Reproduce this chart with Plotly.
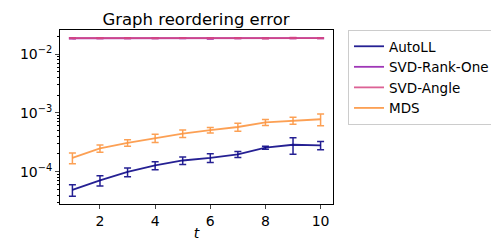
import plotly.graph_objects as go

t = [1, 2, 3, 4, 5, 6, 7, 8, 9, 10]

autoll = [4.9e-5, 7.1e-5, 9.9e-5, 1.28e-4, 1.55e-4, 1.72e-4, 1.97e-4, 2.56e-4, 2.87e-4, 2.8e-4]
autoll_err = [1.1e-5, 1.4e-5, 1.7e-5, 2.0e-5, 2.3e-5, 2.9e-5, 2.3e-5, 1.5e-5, 9.0e-5, 4.5e-5]

svd_rank_one = [0.0186, 0.0186, 0.0187, 0.0186, 0.0187, 0.0185, 0.0187, 0.0186, 0.0187, 0.0187]
svd_rank_one_err = [3e-4, 2e-4, 3e-4, 2e-4, 2e-4, 4e-4, 2e-4, 2e-4, 3e-4, 3e-4]

svd_angle = [0.0187, 0.0187, 0.0187, 0.0186, 0.0188, 0.0187, 0.0187, 0.0185, 0.0188, 0.0187]
svd_angle_err = [3e-4, 2e-4, 3e-4, 2e-4, 2e-4, 3e-4, 2e-4, 2e-4, 3e-4, 3e-4]

mds = [1.72e-4, 2.5e-4, 3.1e-4, 3.75e-4, 4.45e-4, 5.1e-4, 5.75e-4, 6.9e-4, 7.4e-4, 7.8e-4]
mds_err = [3.5e-5, 3.5e-5, 4.0e-5, 6.0e-5, 6.5e-5, 5.5e-5, 9.0e-5, 8.0e-5, 1.0e-4, 1.75e-4]

names = ["AutoLL", "SVD-Rank-One", "SVD-Angle", "MDS"]
colors = ["rgba(13,8,135,0.9)", "rgba(142,20,170,0.85)", "rgba(214,70,130,0.85)", "rgba(252,150,65,0.9)"]
series = [(autoll, autoll_err), (svd_rank_one, svd_rank_one_err), (svd_angle, svd_angle_err), (mds, mds_err)]

ytickvals = [1e-4, 1e-3, 1e-2]
yticktext = ["10<sup>−4</sup>", "10<sup>−3</sup>", "10<sup>−2</sup>"]
yminor = [m * 10 ** e for e in (-5, -4, -3, -2) for m in range(2, 10)]

fig = go.Figure()
for name, color, (vals, errs) in zip(names, colors, series):
    fig.add_trace(go.Scatter(
        x=t, y=vals, name=name, mode="lines",
        line=dict(color=color, width=1.8),
        error_y=dict(type="data", array=errs, visible=True, color=color, thickness=1.5, width=3.5),
    ))

fig.update_layout(
    width=499, height=243,
    margin=dict(l=41, r=164, t=22, b=39),
    plot_bgcolor="white", paper_bgcolor="white",
    font=dict(family="DejaVu Sans", size=14, color="black"),
    title=dict(text="Graph reordering error", x=(41 + 147) / 499, xanchor="center",
               y=1 - 11 / 243, yanchor="middle", font=dict(size=16.5)),
    showlegend=True,
    legend=dict(x=1.055, y=1.0, xanchor="left", yanchor="top",
                bordercolor="#cccccc", borderwidth=1, font=dict(size=13.5),
                tracegroupgap=0, itemwidth=30),
)
fig.update_xaxes(
    range=[0.55, 10.45], tickvals=[2, 4, 6, 8, 10], ticks="outside", ticklen=4,
    showgrid=False, zeroline=False, showline=True, linecolor="black", linewidth=1, mirror=True,
    title=dict(text="<i>t</i>", standoff=0, font=dict(size=14)),
)
fig.update_yaxes(
    type="log", range=[-4.55, -1.59], tickvals=ytickvals, ticktext=yticktext,
    ticks="outside", ticklen=4, showgrid=False, zeroline=False,
    showline=True, linecolor="black", linewidth=1, mirror=True,
    minor=dict(tickvals=yminor, ticks="outside", ticklen=2, showgrid=False, tickcolor="black"),
)
fig.write_html("out.html")
